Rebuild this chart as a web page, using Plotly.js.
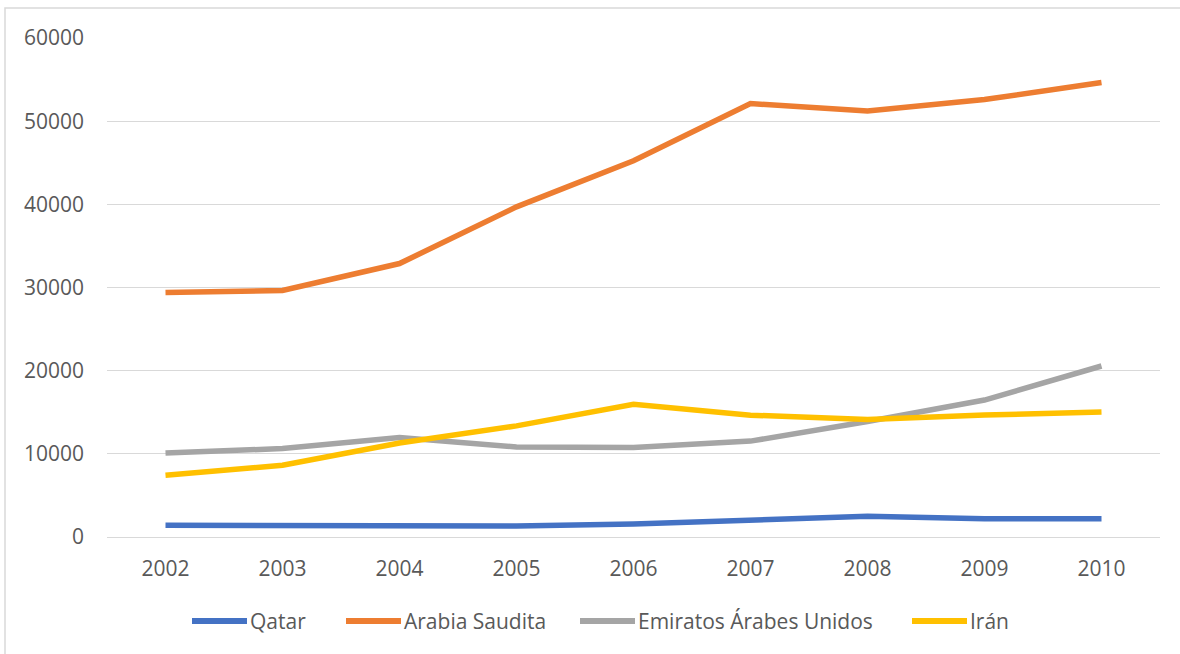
<!DOCTYPE html>
<html>
<head>
<meta charset="utf-8">
<script src="https://cdn.plot.ly/plotly-3.0.1.min.js"></script>
<style>
html,body{margin:0;padding:0;background:#fff;}
#chart{width:1180px;height:654px;}
</style>
</head>
<body>
<div id="chart"></div>
<script>
const years = ["2002","2003","2004","2005","2006","2007","2008","2009","2010"];
const qatar = [1400, 1400, 1320, 1320, 1560, 2000, 2490, 2200, 2200];
const arabiaSaudita = [29400, 29650, 32880, 39700, 45230, 52120, 51230, 52600, 54650];
const emiratos = [10100, 10630, 11950, 10830, 10770, 11530, 13880, 16470, 20560];
const iran = [7420, 8620, 11300, 13360, 15950, 14650, 14120, 14660, 15020];
const seriesNames = ["Qatar", "Arabia Saudita", "Emiratos Árabes Unidos", "Irán"];
const seriesValues = [qatar, arabiaSaudita, emiratos, iran];
const seriesColors = ["#4472C4", "#ED7D31", "#A5A5A5", "#FFC000"];
const yTicks = [0, 10000, 20000, 30000, 40000, 50000, 60000];

const FONT = "Open Sans, Liberation Sans, sans-serif";
const FS = 21;
const W = 1180, H = 654;
const L = 107, R = 20, T = 38, B = 117;
const pw = W - L - R, ph = H - T - B;
const px = x => (x - L) / pw;
const py = y => (H - B - y) / ph;

const traces = seriesNames.map((n, i) => ({
  type: "scatter", mode: "lines", name: n,
  x: years, y: seriesValues[i],
  line: {color: seriesColors[i], width: 5.5, shape: "linear"},
  showlegend: false, hoverinfo: "x+y+name"
}));

// custom legend
const legendLineX = [192, 346, 580, 912];
const legendY = 621;
const shapes = [{
  type: "rect", xref: "paper", yref: "paper",
  x0: px(5), x1: px(1200), y0: py(700), y1: py(8),
  line: {color: "#D9D9D9", width: 1.5}, fillcolor: "rgba(0,0,0,0)", layer: "below"
}];
const annotations = [];
seriesNames.forEach((n, i) => {
  const x0 = legendLineX[i];
  shapes.push({
    type: "line", xref: "paper", yref: "paper",
    x0: px(x0), x1: px(x0 + 55), y0: py(legendY), y1: py(legendY),
    line: {color: seriesColors[i], width: 6}
  });
  annotations.push({
    xref: "paper", yref: "paper", x: px(x0 + 56), y: py(legendY),
    xanchor: "left", yanchor: "middle", showarrow: false,
    text: n, font: {family: FONT, size: FS, color: "#595959"}
  });
});

const layout = {
  width: W, height: H,
  margin: {l: L, r: R, t: T, b: B, pad: 0},
  paper_bgcolor: "#fff", plot_bgcolor: "#fff",
  showlegend: false,
  font: {family: FONT, size: FS, color: "#595959"},
  xaxis: {
    type: "category", range: [-0.5, 8.5],
    showgrid: false, showline: false, zeroline: false,
    ticks: "", ticklabelstandoff: 17,
    tickfont: {family: FONT, size: FS, color: "#595959"}
  },
  yaxis: {
    range: [0, 60000], tickvals: yTicks, ticktext: yTicks.map(String),
    showgrid: true, gridcolor: "#D9D9D9", gridwidth: 1,
    zeroline: true, zerolinecolor: "#D9D9D9", zerolinewidth: 1,
    showline: false, ticks: "", ticklabelstandoff: 22,
    tickfont: {family: FONT, size: FS, color: "#595959"}
  },
  shapes: shapes,
  annotations: annotations
};

Plotly.newPlot("chart", traces, layout, {displayModeBar: false, staticPlot: true});
</script>
</body>
</html>
